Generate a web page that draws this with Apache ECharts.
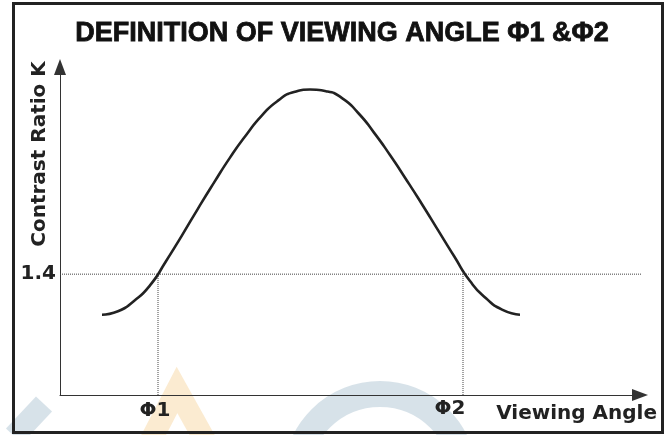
<!DOCTYPE html>
<html>
<head>
<meta charset="utf-8">
<script src="https://cdn.jsdelivr.net/npm/echarts@6/dist/echarts.min.js"></script>
<style>html,body{margin:0;padding:0;background:#fff;}#c{width:671px;height:435px;}</style>
</head>
<body>
<div id="c"></div>
<script>
// Data (x: viewing angle units, 0 at the peak; y: contrast ratio K)
const angleX    = [-41.6, -38.4, -35.2, -32.0, -28.8, -25.6, -22.4, -19.2, -16.0, -12.8, -9.6, -6.4, -3.2, 0.0, 3.2, 6.4, 9.6, 12.8, 16.0, 19.2, 22.4, 25.6, 28.8, 32.0, 35.2, 38.4, 42.0];
const contrastK = [0.93, 0.97, 1.09, 1.27, 1.55, 1.85, 2.16, 2.46, 2.75, 3.01, 3.24, 3.41, 3.51, 3.54, 3.52, 3.44, 3.27, 3.04, 2.78, 2.50, 2.21, 1.91, 1.61, 1.32, 1.12, 0.99, 0.93];
const thresholdK = 1.4;
const phiAngles = [-30.4, 30.6];
const phiLabels = ['Φ1', 'Φ2'];
const yTickLabels = ['1.4'];
const titleText = 'DEFINITION OF VIEWING ANGLE Φ1 &Φ2';
const xName = 'Viewing Angle';
const yName = 'Contrast Ratio K';

const X_MIN = -50, X_MAX = 66, Y_MIN = 0, Y_MAX = 3.8;
const chart = echarts.init(document.getElementById('c'), null, {renderer: 'canvas'});

const curve = angleX.map((x, i) => [x, contrastK[i]]);
const dotted = {type: 'dotted', color: '#444', width: 1};

const option = {
  animation: false,
  backgroundColor: '#fff',
  grid: {left: 60, right: 31, top: 67, bottom: 40},
  xAxis: {
    type: 'value', min: X_MIN, max: X_MAX,
    axisLine: {show: true, onZero: false, lineStyle: {color: '#333', width: 1}, symbol: ['none', 'triangle'], symbolSize: [12, 16]},
    axisTick: {show: false}, axisLabel: {show: false}, splitLine: {show: false}
  },
  yAxis: {
    type: 'value', min: Y_MIN, max: Y_MAX,
    axisLine: {show: true, onZero: false, lineStyle: {color: '#333', width: 1}, symbol: ['none', 'triangle'], symbolSize: [12, 16]},
    axisTick: {show: false}, axisLabel: {show: false}, splitLine: {show: false}
  },
  series: [
    {type: 'line', data: [[X_MIN, thresholdK], [67, thresholdK]], symbol: 'none', lineStyle: dotted, clip: false, z: 1},
    {type: 'line', data: [[phiAngles[0], Y_MIN], [phiAngles[0], thresholdK]], symbol: 'none', lineStyle: dotted, z: 1},
    {type: 'line', data: [[phiAngles[1], Y_MIN], [phiAngles[1], thresholdK]], symbol: 'none', lineStyle: dotted, z: 1},
    {type: 'line', data: curve, smooth: 0.6, symbol: 'none', lineStyle: {color: '#222', width: 2.6}, z: 3}
  ]
};
chart.setOption(option);

const p1 = chart.convertToPixel({gridIndex: 0}, [phiAngles[0], 0]);
const p2 = chart.convertToPixel({gridIndex: 0}, [phiAngles[1], 0]);
const pk = chart.convertToPixel({gridIndex: 0}, [X_MIN, thresholdK]);
const font = 'bold 20px "DejaVu Sans"';

chart.setOption({
  graphic: [
    // faint watermark behind
    {type: 'arc', shape: {cx: 380, cy: 478, r: 84, startAngle: 0, endAngle: Math.PI * 2}, style: {stroke: 'rgba(175,198,212,0.5)', lineWidth: 26, fill: null}, z: -10, silent: true},
    {type: 'polyline', shape: {points: [[150, 442], [177, 390], [206, 442]]}, style: {stroke: 'rgba(245,205,140,0.4)', lineWidth: 22, fill: null}, z: -10, silent: true},
    {type: 'line', shape: {x1: 14, y1: 436, x2: 44, y2: 404}, style: {stroke: 'rgba(175,198,212,0.5)', lineWidth: 22}, z: -10, silent: true},
    // border
    {type: 'rect', shape: {x: 13.5, y: 3.5, width: 649, height: 429}, style: {stroke: '#222', lineWidth: 3, fill: null}, z: 20, silent: true},
    // title
    {type: 'text', x: 342, y: 34, style: {text: titleText, font: 'bold 27px "Liberation Sans"', fill: '#111', stroke: '#111', lineWidth: 0.8, align: 'center', verticalAlign: 'middle'}, z: 20},
    // y axis name
    {type: 'text', x: 40, y: 154, rotation: Math.PI / 2, style: {text: yName, font: font, fill: '#222', align: 'center', verticalAlign: 'middle'}, z: 20},
    // x axis name
    {type: 'text', x: 657, y: 414, style: {text: xName, font: font, fill: '#222', align: 'right', verticalAlign: 'middle'}, z: 20},
    // 1.4 label
    {type: 'text', x: pk[0] - 4, y: pk[1], style: {text: yTickLabels[0], font: font, fill: '#222', align: 'right', verticalAlign: 'middle'}, z: 20},
    // phi labels
    {type: 'text', x: p1[0] - 3, y: p1[1] + 16, style: {text: phiLabels[0], font: font, fill: '#222', align: 'center', verticalAlign: 'middle'}, z: 20},
    {type: 'text', x: p2[0] - 13, y: p2[1] + 14, style: {text: phiLabels[1], font: font, fill: '#222', align: 'center', verticalAlign: 'middle'}, z: 20}
  ]
});
</script>
</body>
</html>
